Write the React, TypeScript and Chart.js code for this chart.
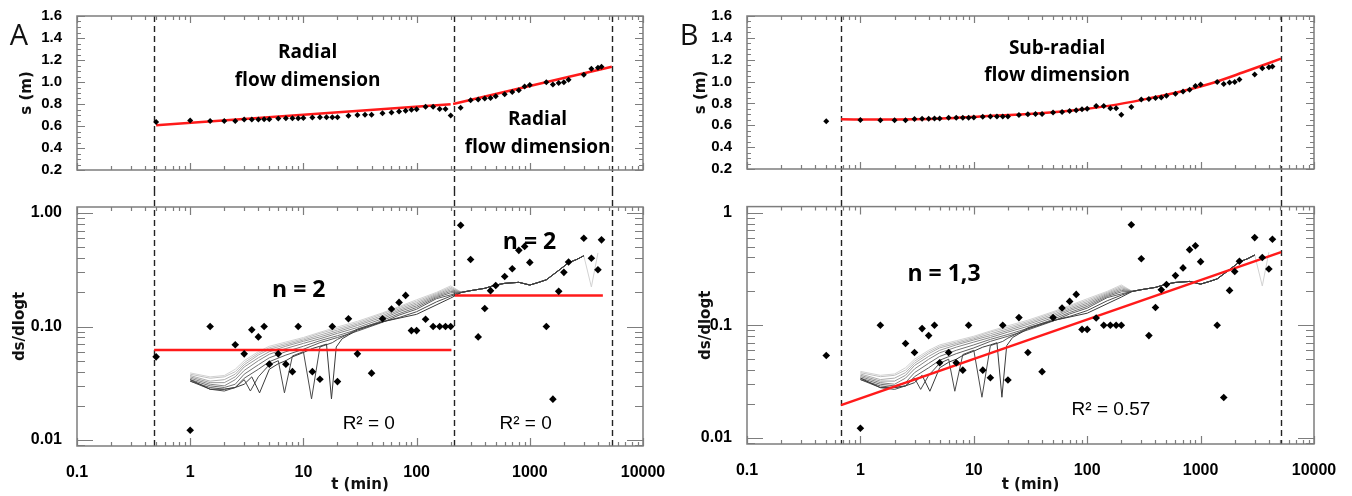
import React, { useEffect, useRef } from 'react';
import { Chart, registerables } from 'chart.js';
Chart.register(...registerables);

// ---------------- data ----------------
const X_TICKS = [0.1, 1, 10, 100, 1000, 10000];
const X_TICK_LABELS = ['0.1', '1', '10', '100', '1000', '10000'];
const S_Y_TICKS = [0.2, 0.4, 0.6, 0.8, 1.0, 1.2, 1.4, 1.6];
const S_Y_LABELS = ['0.2', '0.4', '0.6', '0.8', '1.0', '1.2', '1.4', '1.6'];
const D_Y_TICKS = [0.01, 0.1, 1];
const D_Y_LABELS_A = ['0.01', '0.10', '1.00'];
const D_Y_LABELS_B = ['0.01', '0.1', '1'];

const X_TITLE = 't (min)';
const S_TITLE = 's (m)';
const D_TITLE = 'ds/dlogt';

// drawdown s(t)
const S_T = [0.5, 1, 1.5, 2, 2.5, 3, 3.5, 4, 4.5, 5, 6, 7, 8, 9, 10, 12, 14, 16, 18, 20, 25, 30, 35, 40, 50, 60, 70, 80, 90, 100, 120, 140, 160, 180, 200, 245, 300, 350, 400, 450, 500, 600, 700, 800, 900, 1000, 1400, 1600, 1800, 2000, 2200, 3000, 3500, 4000, 4300];
const S_V = [0.637, 0.649, 0.646, 0.646, 0.646, 0.658, 0.66, 0.66, 0.662, 0.662, 0.669, 0.67, 0.67, 0.67, 0.672, 0.678, 0.68, 0.68, 0.68, 0.68, 0.693, 0.7, 0.703, 0.703, 0.716, 0.722, 0.731, 0.738, 0.747, 0.752, 0.776, 0.776, 0.755, 0.755, 0.696, 0.767, 0.835, 0.84, 0.849, 0.855, 0.87, 0.888, 0.909, 0.926, 0.959, 0.973, 0.997, 0.977, 0.991, 0.997, 1.02, 1.065, 1.121, 1.13, 1.139];

// derivative ds/dlogt
const DS_T = [0.5, 1, 1.5, 2.5, 3, 3.5, 4, 4.5, 5, 6, 7, 8, 9, 12, 14, 18, 20, 25, 30, 40, 50, 60, 70, 80, 90, 100, 120, 140, 160, 180, 200, 245, 300, 350, 400, 450, 500, 600, 700, 800, 900, 1000, 1400, 1600, 1800, 2000, 2200, 3000, 3500, 4000, 4300];
const DS_V = [0.054, 0.0122, 0.1, 0.069, 0.0574, 0.0935, 0.081, 0.1, 0.0466, 0.0574, 0.0466, 0.04, 0.1, 0.04, 0.0343, 0.1, 0.0327, 0.117, 0.0574, 0.0388, 0.117, 0.1425, 0.163, 0.188, 0.092, 0.092, 0.116, 0.1, 0.1, 0.1, 0.1, 0.78, 0.39, 0.081, 0.144, 0.207, 0.23, 0.276, 0.323, 0.469, 0.508, 0.367, 0.1, 0.0229, 0.204, 0.3, 0.37, 0.6, 0.4, 0.316, 0.58];

// smoothed derivative curves (grey family, light -> dark)
const GRAY_EARLY_T = [1, 1.5, 2, 2.5, 3, 4, 5, 7, 10, 14, 20, 30, 50, 70, 100, 150, 200];
const GRAY_1 = [0.039, 0.036, 0.037, 0.042, 0.05, 0.06, 0.067, 0.073, 0.08, 0.089, 0.099, 0.111, 0.132, 0.15, 0.172, 0.2, 0.228];
const GRAY_2 = [0.038, 0.035, 0.036, 0.04, 0.048, 0.058, 0.065, 0.071, 0.078, 0.087, 0.096, 0.108, 0.129, 0.147, 0.167, 0.196, 0.222];
const GRAY_3 = [0.037, 0.033, 0.034, 0.038, 0.046, 0.056, 0.063, 0.069, 0.076, 0.084, 0.093, 0.105, 0.125, 0.143, 0.162, 0.192, 0.216];
const GRAY_4 = [0.036, 0.032, 0.032, 0.036, 0.044, 0.053, 0.06, 0.067, 0.074, 0.081, 0.09, 0.102, 0.121, 0.139, 0.157, 0.188, 0.21];
const GRAY_5 = [0.035, 0.031, 0.03, 0.034, 0.041, 0.05, 0.057, 0.064, 0.071, 0.078, 0.087, 0.098, 0.117, 0.135, 0.152, 0.184, 0.204];
const GRAY_6 = [0.034, 0.03, 0.029, 0.031, 0.038, 0.046, 0.053, 0.06, 0.067, 0.075, 0.083, 0.094, 0.113, 0.13, 0.147, 0.18, 0.198];
const GRAY_7 = [0.033, 0.029, 0.028, 0.029, 0.035, 0.042, 0.049, 0.056, 0.063, 0.072, 0.08, 0.091, 0.109, 0.126, 0.142, 0.176, 0.19];
const ZIG_1_T = [1, 1.5, 2, 2.5, 3, 3.4, 4, 5, 6, 6.8, 8, 10, 11.8, 14, 18, 20, 25, 30, 40, 50, 70, 100, 150, 200];
const ZIG_1_V = [0.033, 0.028, 0.027, 0.029, 0.034, 0.027, 0.036, 0.046, 0.05, 0.026, 0.055, 0.06, 0.023, 0.066, 0.072, 0.077, 0.086, 0.095, 0.104, 0.11, 0.12, 0.135, 0.165, 0.185];
const ZIG_2_T = [1, 1.5, 2, 2.5, 3, 3.5, 4.1, 5, 6, 7, 8, 10, 12, 14, 16, 17.7, 19.5, 22, 25, 30, 50, 100, 200];
const ZIG_2_V = [0.034, 0.028, 0.028, 0.029, 0.031, 0.036, 0.026, 0.042, 0.047, 0.05, 0.054, 0.059, 0.064, 0.067, 0.07, 0.023, 0.066, 0.078, 0.084, 0.093, 0.11, 0.128, 0.178];
const GRAY_TAIL_T = [250, 300, 400, 500, 600, 800, 1000, 1200, 1400, 1800, 2200, 2600, 3000];
const GRAY_TAIL_V = [0.2, 0.207, 0.217, 0.232, 0.24, 0.245, 0.232, 0.245, 0.258, 0.312, 0.365, 0.39, 0.42];
const GRAY_END_T = [3500, 4000];
const GRAY_END_V = [0.223, 0.445];

// fits
const A_TOP_FIT1_T = [0.5, 200];
const A_TOP_FIT1_V = [0.607, 0.797];
const A_TOP_FIT2_T = [210, 5300];
const A_TOP_FIT2_V = [0.8, 1.139];
const A_BOT_FIT1_T = [0.48, 203];
const A_BOT_FIT1_V = [0.0622, 0.0622];
const A_BOT_FIT2_T = [218, 4420];
const A_BOT_FIT2_V = [0.188, 0.188];
const B_TOP_FIT_T = [0.675, 1.49, 2.93, 5.77, 11.3, 20.8, 41, 80.7, 159, 311, 615, 1210, 2385, 5120];
const B_TOP_FIT_V = [0.655, 0.652, 0.655, 0.665, 0.681, 0.694, 0.713, 0.74, 0.78, 0.835, 0.9, 0.98, 1.085, 1.21];
const B_BOT_FIT_T = [0.675, 5120];
const B_BOT_FIT_V = [0.0196, 0.446];

// interval limits (dashed)
const A_LIMITS = [0.48, 212, 5370];
const B_LIMITS = [0.675, 5120];

// annotation texts
const TXT_RADIAL = 'Radial';
const TXT_FLOW = 'flow dimension';
const TXT_SUB = 'Sub-radial';
const TXT_N2 = 'n = 2';
const TXT_N13 = 'n = 1,3';
const TXT_R0 = 'R\u00B2 = 0';
const TXT_R57 = 'R\u00B2 = 0.57';

// ---------------- helpers ----------------
const pts = (xs: number[], ys: number[]) => xs.map((x, i) => ({ x, y: ys[i] }));

const X_MINOR: number[] = [];
[0.1, 1, 10, 100, 1000].forEach((d) => { for (let k = 2; k <= 9; k++) X_MINOR.push(d * k); });
const D_MINOR: number[] = [0.009];
[0.01, 0.1].forEach((d) => { for (let k = 2; k <= 9; k++) D_MINOR.push(d * k); });
const S_MINOR: number[] = [];
for (let k = 0; k <= 28; k++) { if (k % 4 !== 0) S_MINOR.push(0.2 + k * 0.05); }

const AXIS_GREY = '#7d7d7d';
const RED = '#ff1a1a';
const TICK_FONT = 'Liberation Sans';

const figPlugin = {
  id: 'fig',
  beforeDatasetsDraw(chart: any, _a: any, o: any) {
    const { ctx, chartArea: ca, scales } = chart;
    const x = scales.x, y = scales.y;
    ctx.save();
    ctx.strokeStyle = '#222';
    ctx.lineWidth = 1.4;
    ctx.setLineDash([6, 4]);
    for (const t of o.vlines || []) {
      const px = Math.round(x.getPixelForValue(t)) + 0.5;
      ctx.beginPath();
      ctx.moveTo(px, o.dashFromCanvasTop ? 0 : ca.top);
      ctx.lineTo(px, o.dashToCanvasBottom ? chart.height : ca.bottom);
      ctx.stroke();
    }
    ctx.setLineDash([]);
    ctx.fillStyle = '#000';
    ctx.textAlign = 'center';
    ctx.textBaseline = 'middle';
    for (const a of o.texts || []) {
      ctx.font = a.font;
      ctx.fillText(a.text, x.getPixelForValue(a.t), y.getPixelForValue(a.v));
    }
    ctx.restore();
  },
  afterDraw(chart: any, _a: any, o: any) {
    const { ctx, chartArea: ca, scales } = chart;
    const x = scales.x, y = scales.y;
    ctx.save();
    ctx.strokeStyle = AXIS_GREY;
    ctx.lineWidth = 1.2;
    ctx.beginPath();
    const tk = o.ticks;
    const xt = (vals: number[], len: number) => {
      for (const v of vals) {
        const p = Math.round(x.getPixelForValue(v)) + 0.5;
        ctx.moveTo(p, ca.bottom); ctx.lineTo(p, ca.bottom - len);
        ctx.moveTo(p, ca.top); ctx.lineTo(p, ca.top + len);
      }
    };
    const yt = (vals: number[], len: number) => {
      for (const v of vals) {
        const p = Math.round(y.getPixelForValue(v)) + 0.5;
        ctx.moveTo(ca.left, p); ctx.lineTo(ca.left + len, p);
        ctx.moveTo(ca.right, p); ctx.lineTo(ca.right - len, p);
      }
    };
    xt(tk.xMajor, tk.xMajLen); xt(tk.xMinor, tk.xMinLen);
    yt(tk.yMajor, tk.yMajLen); yt(tk.yMinor, tk.yMinLen);
    ctx.stroke();
    ctx.lineWidth = 1.5;
    ctx.strokeRect(ca.left, ca.top, ca.right - ca.left, ca.bottom - ca.top);
    if (o.letter) {
      ctx.fillStyle = '#111';
      ctx.font = '29px "Open Sans"';
      ctx.textAlign = 'center';
      ctx.textBaseline = 'middle';
      ctx.fillText(o.letter.text, o.letter.x, o.letter.y);
    }
    ctx.restore();
  },
};

const xScale = (labels: boolean, height: number) => ({
  type: 'logarithmic',
  min: 0.1,
  max: 10000,
  grid: { display: false },
  border: { display: false },
  afterBuildTicks: (s: any) => { s.ticks = X_TICKS.map((v) => ({ value: v })); },
  afterFit: (s: any) => { s.height = height; },
  ticks: {
    display: labels, autoSkip: false, maxRotation: 0, minRotation: 0, padding: 9, color: '#000',
    font: { family: TICK_FONT, size: 16, weight: 'bold' },
    callback: (_v: any, i: number) => X_TICK_LABELS[i],
  },
  title: {
    display: labels, text: X_TITLE, color: '#111',
    font: { family: 'DejaVu Sans', size: 15, weight: 'bold' }, padding: { top: 0, bottom: 2 },
  },
});

const sYScale = (width: number, titlePad: number) => ({
  type: 'linear',
  min: 0.2,
  max: 1.6,
  grid: { display: false },
  border: { display: false },
  afterBuildTicks: (s: any) => { s.ticks = S_Y_TICKS.map((v) => ({ value: v })); },
  afterFit: (s: any) => { s.width = width; },
  ticks: {
    autoSkip: false, padding: 7, color: '#000', font: { family: TICK_FONT, size: 15, weight: 'bold' },
    callback: (_v: any, i: number) => S_Y_LABELS[i],
  },
  title: {
    display: true, text: S_TITLE, color: '#111',
    font: { family: 'DejaVu Sans', size: 15, weight: 'bold' }, padding: { top: titlePad, bottom: 0 },
  },
});

const dYScale = (width: number, titlePad: number, labels: string[]) => ({
  type: 'logarithmic',
  min: 0.00885,
  max: 1.13,
  grid: { display: false },
  border: { display: false },
  afterBuildTicks: (s: any) => { s.ticks = D_Y_TICKS.map((v) => ({ value: v })); },
  afterFit: (s: any) => { s.width = width; },
  ticks: {
    autoSkip: false, padding: 7, color: '#000', font: { family: TICK_FONT, size: 16, weight: 'bold' },
    callback: (_v: any, i: number) => labels[i],
  },
  title: {
    display: true, text: D_TITLE, color: '#111',
    font: { family: 'DejaVu Sans', size: 15, weight: 'bold' }, padding: { top: titlePad, bottom: 0 },
  },
});

const scatterDs = (xs: number[], ys: number[], r: number) => ({
  data: pts(xs, ys), pointStyle: 'rectRot', pointRadius: r, backgroundColor: '#000',
  borderColor: '#000', borderWidth: 0, showLine: false,
});
const lineDs = (xs: number[], ys: number[], color: string, width: number, extra: any = {}) => ({
  data: pts(xs, ys), showLine: true, pointRadius: 0, borderColor: color, borderWidth: width,
  backgroundColor: color, fill: false, tension: 0, ...extra,
});

// first dataset is drawn on top: darkest curves first so the shared tail stays dark
const grayDatasets = () => {
  const smooth = [GRAY_1, GRAY_2, GRAY_3, GRAY_4, GRAY_5, GRAY_6, GRAY_7];
  const cols = ['#d2d2d2', '#c0c0c0', '#adadad', '#999999', '#858585', '#707070', '#5c5c5c'];
  const out: any[] = [];
  out.push(lineDs(ZIG_2_T.concat(GRAY_TAIL_T), ZIG_2_V.concat(GRAY_TAIL_V), '#3a3a3a', 1));
  out.push(lineDs(ZIG_1_T.concat(GRAY_TAIL_T), ZIG_1_V.concat(GRAY_TAIL_V), '#4a4a4a', 1));
  for (let i = smooth.length - 1; i >= 0; i--) {
    const tt = GRAY_EARLY_T.concat(GRAY_TAIL_T, i === 0 ? GRAY_END_T : []);
    const vv = smooth[i].concat(GRAY_TAIL_V, i === 0 ? GRAY_END_V : []);
    out.push(lineDs(tt, vv, cols[i], 1));
  }
  return out;
};

const topTicks = { xMajor: X_TICKS, xMinor: X_MINOR, yMajor: S_Y_TICKS, yMinor: S_MINOR, xMajLen: 7, xMinLen: 4, yMajLen: 8, yMinLen: 4 };
const botTicks = { xMajor: X_TICKS, xMinor: X_MINOR, yMajor: D_Y_TICKS, yMinor: D_MINOR, xMajLen: 8, xMinLen: 4, yMajLen: 16, yMinLen: 8 };

const base = (padTop: number, padRight: number) => ({
  animation: false, responsive: false, maintainAspectRatio: false,
  layout: { padding: { top: padTop, right: padRight, left: 0, bottom: 0 } },
  events: [],
});

const BOLD_ANN = 'bold 19px "Open Sans"';
const BIG_ANN = 'bold 23px "Open Sans"';
const R_ANN = '19px "Liberation Sans"';

const makeATop = () => ({
  type: 'scatter',
  data: {
    datasets: [
      scatterDs(S_T, S_V, 3),
      lineDs(A_TOP_FIT1_T, A_TOP_FIT1_V, RED, 2.5),
      lineDs(A_TOP_FIT2_T, A_TOP_FIT2_V, RED, 2.5),
    ],
  },
  options: {
    ...base(12, 33),
    plugins: {
      legend: { display: false }, tooltip: { enabled: false },
      fig: {
        vlines: A_LIMITS, dashToCanvasBottom: true, ticks: topTicks,
        letter: { text: 'A', x: 19, y: 37 },
        texts: [
          { text: TXT_RADIAL, t: 10.9, v: 1.263, font: BOLD_ANN },
          { text: TXT_FLOW, t: 10.9, v: 1.015, font: BOLD_ANN },
          { text: TXT_RADIAL, t: 1172, v: 0.661, font: BOLD_ANN },
          { text: TXT_FLOW, t: 1172, v: 0.404, font: BOLD_ANN },
        ],
      },
    },
    scales: { x: xScale(false, 20), y: sYScale(77, 18) },
  },
  plugins: [figPlugin],
});

const makeABot = () => ({
  type: 'scatter',
  data: {
    datasets: [
      scatterDs(DS_T, DS_V, 3.8),
      lineDs(A_BOT_FIT1_T, A_BOT_FIT1_V, RED, 2.5),
      lineDs(A_BOT_FIT2_T, A_BOT_FIT2_V, RED, 2.5),
      ...grayDatasets(),
    ],
  },
  options: {
    ...base(17, 33),
    plugins: {
      legend: { display: false }, tooltip: { enabled: false },
      fig: {
        vlines: A_LIMITS, dashFromCanvasTop: true, ticks: botTicks,
        texts: [
          { text: TXT_N2, t: 9.1, v: 0.2066, font: BIG_ANN },
          { text: TXT_N2, t: 995, v: 0.548, font: BIG_ANN },
          { text: TXT_R0, t: 37.8, v: 0.0138, font: R_ANN },
          { text: TXT_R0, t: 918, v: 0.0138, font: R_ANN },
        ],
      },
    },
    scales: { x: xScale(true, 50), y: dYScale(77, 11, D_Y_LABELS_A) },
  },
  plugins: [figPlugin],
});

const makeBTop = () => ({
  type: 'scatter',
  data: {
    datasets: [
      scatterDs(S_T, S_V, 3),
      lineDs(B_TOP_FIT_T, B_TOP_FIT_V, RED, 2.5, { cubicInterpolationMode: 'monotone' }),
    ],
  },
  options: {
    ...base(12, 38),
    plugins: {
      legend: { display: false }, tooltip: { enabled: false },
      fig: {
        vlines: B_LIMITS, dashToCanvasBottom: true, ticks: topTicks,
        letter: { text: 'B', x: 13, y: 37 },
        texts: [
          { text: TXT_SUB, t: 54.2, v: 1.306, font: BOLD_ANN },
          { text: TXT_FLOW, t: 54.2, v: 1.056, font: BOLD_ANN },
        ],
      },
    },
    scales: { x: xScale(false, 21), y: sYScale(71, 16) },
  },
  plugins: [figPlugin],
});

const makeBBot = () => ({
  type: 'scatter',
  data: {
    datasets: [
      scatterDs(DS_T, DS_V, 3.8),
      lineDs(B_BOT_FIT_T, B_BOT_FIT_V, RED, 2.5),
      ...grayDatasets(),
    ],
  },
  options: {
    ...base(16, 38),
    plugins: {
      legend: { display: false }, tooltip: { enabled: false },
      fig: {
        vlines: B_LIMITS, dashFromCanvasTop: true, ticks: botTicks,
        texts: [
          { text: TXT_N13, t: 5.46, v: 0.284, font: BIG_ANN },
          { text: TXT_R57, t: 162, v: 0.0178, font: R_ANN },
        ],
      },
    },
    scales: { x: xScale(true, 52), y: dYScale(71, 21, D_Y_LABELS_B) },
  },
  plugins: [figPlugin],
});

function ChartBox({ make, left, top, w, h }: { make: () => any; left: number; top: number; w: number; h: number }) {
  const ref = useRef<HTMLCanvasElement>(null);
  useEffect(() => {
    const chart = new Chart(ref.current as HTMLCanvasElement, make());
    return () => chart.destroy();
  }, [make]);
  return (
    <div style={{ position: 'absolute', left, top, width: w, height: h }}>
      <canvas ref={ref} width={w} height={h} style={{ width: w, height: h, display: 'block' }} />
    </div>
  );
}

export default function App() {
  return (
    <div style={{ position: 'fixed', left: 0, top: 0, width: 1352, height: 496, background: '#ffffff', overflow: 'hidden' }}>
      <ChartBox make={makeATop} left={0} top={0} w={676} h={190} />
      <ChartBox make={makeABot} left={0} top={190} w={676} h={306} />
      <ChartBox make={makeBTop} left={676} top={0} w={676} h={190} />
      <ChartBox make={makeBBot} left={676} top={190} w={676} h={306} />
    </div>
  );
}
